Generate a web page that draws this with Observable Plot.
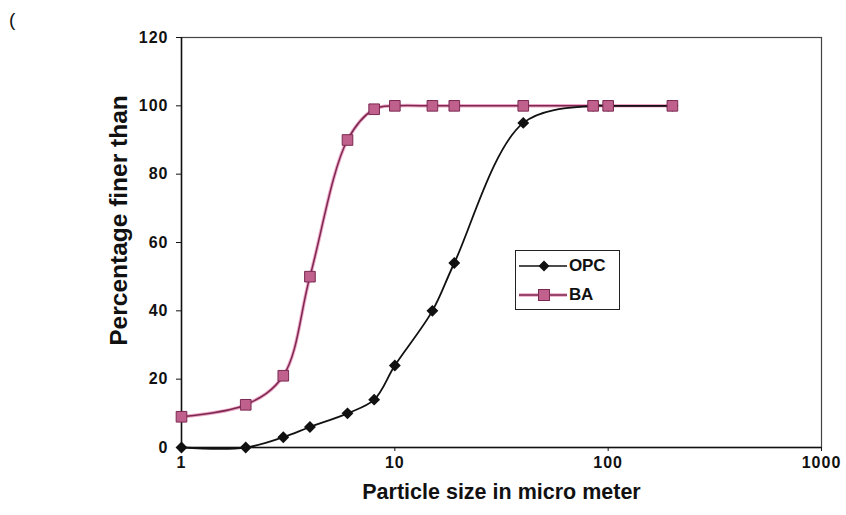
<!DOCTYPE html>
<html>
<head>
<meta charset="utf-8">
<script src="https://cdn.jsdelivr.net/npm/d3@7"></script>
<script src="https://cdn.jsdelivr.net/npm/@observablehq/plot@0.6"></script>
<style>
  html, body { margin: 0; padding: 0; background: #fff; }
  #wrap { position: relative; width: 846px; height: 515px; font-family: "Liberation Sans", Arial, sans-serif; }
  #paren { position: absolute; left: 9px; top: 9px; font-size: 19px; color: #111; }
  #legend { position: absolute; left: 515px; top: 250px; width: 105px; height: 60px;
            border: 1.5px solid #222; box-sizing: border-box; background: #fff; }
  .row { position: absolute; left: 3px; height: 20px; display: flex; align-items: center; }
  .row span { font-size: 17px; font-weight: bold; color: #111; margin-left: 2px; letter-spacing: -0.2px; }
  .ticklab text { letter-spacing: 1px; }
</style>
</head>
<body>
<div id="wrap">
  <div id="paren">(</div>
  <div id="chart"></div>
  <div id="legend">
    <div class="row" style="top:5px">
      <svg width="48" height="16"><line x1="0" y1="8" x2="48" y2="8" stroke="#111" stroke-width="1.5"/>
        <path d="M25 2.5 L30.5 8 L25 13.5 L19.5 8 Z" fill="#111"/></svg><span>OPC</span>
    </div>
    <div class="row" style="top:34px">
      <svg width="48" height="16"><line x1="0" y1="8" x2="48" y2="8" stroke="#e46aa3" stroke-width="3.5" opacity="0.6"/>
        <line x1="0" y1="8" x2="48" y2="8" stroke="#7a284e" stroke-width="1.5"/>
        <rect x="19.5" y="2.5" width="11" height="11" fill="#c0608c" stroke="#7a2a52" stroke-width="1"/></svg><span>BA</span>
    </div>
  </div>
</div>
<script>
// Particle size (micrometres) and cumulative percentage finer
const opcSize = [1, 2, 3, 4, 6, 8, 10, 15, 19, 40, 85, 100, 200];
const opcFiner = [0, 0, 3, 6, 10, 14, 24, 40, 54, 95, 100, 100, 100];
const baSize = [1, 2, 3, 4, 6, 8, 10, 15, 19, 40, 85, 100, 200];
const baFiner = [9, 12.5, 21, 50, 90, 99, 100, 100, 100, 100, 100, 100, 100];
const xTicks = [1, 10, 100, 1000];
const yTicks = [0, 20, 40, 60, 80, 100, 120];

const opc = opcSize.map((s, i) => ({size: s, finer: opcFiner[i]}));
const ba = baSize.map((s, i) => ({size: s, finer: baFiner[i]}));

const chart = Plot.plot({
  width: 846,
  height: 515,
  marginLeft: 181,
  marginRight: 25,
  marginTop: 37,
  marginBottom: 68,
  style: {fontFamily: "'Liberation Sans', Arial, sans-serif", background: "transparent", color: "#111"},
  x: {type: "log", domain: [1, 1000], ticks: xTicks, tickFormat: d => String(d), label: null},
  y: {domain: [0, 120], ticks: yTicks, label: null},
  marks: [
    Plot.frame({stroke: "#444", strokeWidth: 1.2}),
    Plot.axisX({ticks: xTicks, tickFormat: d => String(d), tickSize: 4, tickPadding: 5,
                fontSize: 16, fontWeight: "bold", label: null, className: "ticklab"}),
    Plot.axisY({ticks: yTicks, tickSize: 5, tickPadding: 8, fontSize: 16, fontWeight: "bold",
                label: null, className: "ticklab"}),
    Plot.ruleX([1], {stroke: "#111", strokeWidth: 1.5}),
    Plot.ruleY([0], {stroke: "#111", strokeWidth: 1.5}),
    Plot.text(["Particle size in micro meter"], {frameAnchor: "bottom", dy: 51, fontSize: 21.5, fontWeight: "bold", fill: "#111"}),
    Plot.text(["Percentage finer than"], {frameAnchor: "left", textAnchor: "middle", dx: -62, dy: -22, rotate: -90,
                                           fontSize: 24.5, fontWeight: "bold", fill: "#111"}),
    // BA curve: pink halo with darker core
    Plot.line(ba, {x: "size", y: "finer", curve: "catmull-rom", stroke: "#e46aa3", strokeWidth: 3.5, strokeOpacity: 0.6}),
    Plot.line(ba, {x: "size", y: "finer", curve: "catmull-rom", stroke: "#7a284e", strokeWidth: 1.5}),
    // OPC curve with diamond markers
    Plot.line(opc, {x: "size", y: "finer", curve: "catmull-rom", stroke: "#111", strokeWidth: 1.8}),
    Plot.dot(opc, {x: "size", y: "finer", symbol: "diamond2", r: 4.4, fill: "#111", stroke: "#111"}),
    Plot.dot(ba, {x: "size", y: "finer", symbol: "square", r: 6, fill: "#c0608c", stroke: "#7a2a52", strokeWidth: 1})
  ]
});
document.getElementById("chart").appendChild(chart);
</script>
</body>
</html>
